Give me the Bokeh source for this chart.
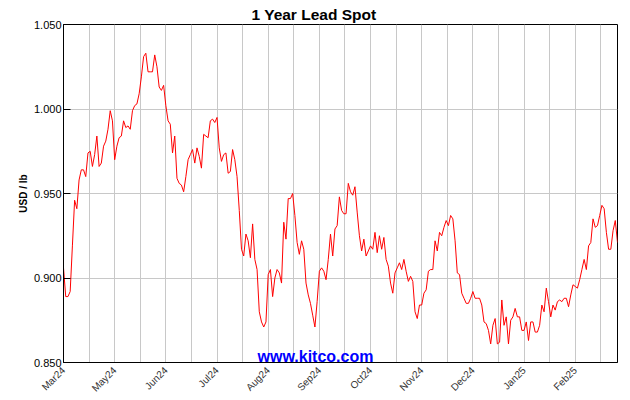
import numpy as np
from math import pi
from bokeh.plotting import figure
from bokeh.models import (FixedTicker, ColumnDataSource, Label, Range1d,
                          NumeralTickFormatter)
from bokeh.embed import file_html
from bokeh.resources import INLINE

# ---- data (USD / lb, one value per trading day) ----
prices = [
    0.906, 0.889, 0.889, 0.892, 0.919, 0.946, 0.941, 0.958, 0.964, 0.964,
    0.960, 0.974, 0.975, 0.966, 0.973, 0.984, 0.966, 0.968, 0.978, 0.981,
    0.988, 0.999, 0.993, 0.970, 0.978, 0.983, 0.984, 0.993, 0.989, 0.990,
    0.988, 0.999, 1.002, 1.003, 1.009, 1.019, 1.031, 1.033, 1.022, 1.022,
    1.022, 1.032, 1.025, 1.013, 1.011, 1.014, 1.002, 0.993, 0.991, 0.974,
    0.984, 0.959, 0.956, 0.955, 0.951, 0.960, 0.970, 0.973, 0.976, 0.968,
    0.977, 0.972, 0.965, 0.985, 0.984, 0.983, 0.993, 0.994, 0.992, 0.995,
    0.977, 0.969, 0.973, 0.974, 0.962, 0.963, 0.976, 0.970, 0.960, 0.940,
    0.917, 0.913, 0.926, 0.922, 0.912, 0.932, 0.911, 0.905, 0.880, 0.874,
    0.871, 0.874, 0.902, 0.905, 0.889, 0.900, 0.905, 0.903, 0.897, 0.933,
    0.923, 0.947, 0.947, 0.950, 0.937, 0.921, 0.914, 0.922, 0.917, 0.897,
    0.890, 0.885, 0.878, 0.871, 0.886, 0.904, 0.906, 0.904, 0.899, 0.911,
    0.926, 0.913, 0.929, 0.931, 0.948, 0.940, 0.938, 0.938, 0.956, 0.951,
    0.949, 0.954, 0.939, 0.925, 0.916, 0.923, 0.913, 0.916, 0.919, 0.917,
    0.927, 0.915, 0.925, 0.917, 0.924, 0.911, 0.907, 0.897, 0.891, 0.903,
    0.906, 0.909, 0.905, 0.911, 0.904, 0.898, 0.901, 0.898, 0.880, 0.876,
    0.884, 0.884, 0.891, 0.893, 0.904, 0.905, 0.905, 0.922, 0.916, 0.927,
    0.925, 0.930, 0.934, 0.931, 0.937, 0.935, 0.922, 0.903, 0.902, 0.891,
    0.888, 0.885, 0.885, 0.888, 0.892, 0.888, 0.888, 0.888, 0.884, 0.874,
    0.873, 0.869, 0.861, 0.872, 0.876, 0.861, 0.862, 0.887, 0.872, 0.877,
    0.861, 0.875, 0.877, 0.882, 0.877, 0.877, 0.869, 0.869, 0.874, 0.863,
    0.874, 0.874, 0.868, 0.868, 0.872, 0.884, 0.880, 0.894, 0.886, 0.877,
    0.884, 0.881, 0.886, 0.887, 0.886, 0.888, 0.888, 0.883, 0.890, 0.896,
    0.895, 0.894, 0.899, 0.905, 0.911, 0.905, 0.919, 0.921, 0.935, 0.930,
    0.931, 0.937, 0.943, 0.941, 0.927, 0.917, 0.917, 0.928, 0.934, 0.921,
]
days = list(range(len(prices)))

month_labels = ["Mar24", "May24", "Jun24", "Jul24", "Aug24", "Sep24",
                "Oct24", "Nov24", "Dec24", "Jan25", "Feb25"]
month_label_days = [0, 23, 46, 69, 92, 115, 138, 161, 184, 207, 230]
grid_days = [k * 11.5 for k in range(22)]
y_ticks = [0.850, 0.900, 0.950, 1.000, 1.050]

title_text = "1 Year Lead Spot"
y_label = "USD / lb"
watermark = "www.kitco.com"

FONT = "Liberation Sans"

p = figure(width=630, height=400, output_backend="svg", toolbar_location=None,
           x_range=Range1d(0, len(prices) - 1), y_range=Range1d(0.85, 1.05),
           min_border_left=63, min_border_right=13, min_border_top=24,
           min_border_bottom=36)
p.background_fill_color = "white"
p.border_fill_color = "white"
p.outline_line_color = "black"
p.outline_line_width = 1
p.outline_line_alpha = 1

# title
p.title.text = title_text
p.title.align = "left"
p.title.offset = 188
p.title.standoff = 4
p.title.text_font = FONT
p.title.text_font_size = "15.5px"
p.title.text_font_style = "bold"
p.title.text_color = "black"

# y axis
yax = p.yaxis[0]
yax.ticker = FixedTicker(ticks=y_ticks)
yax.formatter = NumeralTickFormatter(format="0.000")
yax.major_tick_in = 7
yax.major_tick_out = 0
yax.minor_tick_line_color = None
yax.axis_line_color = "black"
yax.major_tick_line_color = "black"
yax.major_label_text_font = FONT
yax.major_label_text_font_size = "11px"
yax.major_label_text_color = "black"
yax.major_label_standoff = 2
yax.axis_label = y_label
yax.axis_label_text_font = FONT
yax.axis_label_text_font_size = "10px"
yax.axis_label_text_font_style = "bold"
yax.axis_label_text_color = "black"
yax.axis_label_standoff = 2

# x axis (month labels, rotated)
xax = p.xaxis[0]
xax.ticker = FixedTicker(ticks=month_label_days)
xax.major_label_overrides = {d: m for d, m in zip(month_label_days, month_labels)}
xax.major_label_orientation = pi / 4
xax.major_tick_in = 0
xax.major_tick_out = 0
xax.minor_tick_line_color = None
xax.axis_line_color = "black"
xax.major_label_text_font = FONT
xax.major_label_text_font_size = "10px"
xax.major_label_text_color = "#333333"
xax.major_label_standoff = 6

# grids
p.ygrid.ticker = FixedTicker(ticks=y_ticks)
p.ygrid.grid_line_color = "#c8c8c8"
p.xgrid.ticker = FixedTicker(ticks=grid_days)
p.xgrid.grid_line_color = "#c8c8c8"

# price line
src = ColumnDataSource(dict(day=days, price=prices))
p.line("day", "price", source=src, line_color="#ff0000", line_width=1)

# watermark (inside the plot area)
p.add_layout(Label(x=252, y=6, x_units="screen", y_units="screen",
                   text=watermark, text_align="center",
                   text_baseline="alphabetic", text_font=FONT,
                   text_font_size="16px", text_font_style="bold",
                   text_color="#0000ff"))

open("out.html", "w").write(file_html(p, INLINE))
